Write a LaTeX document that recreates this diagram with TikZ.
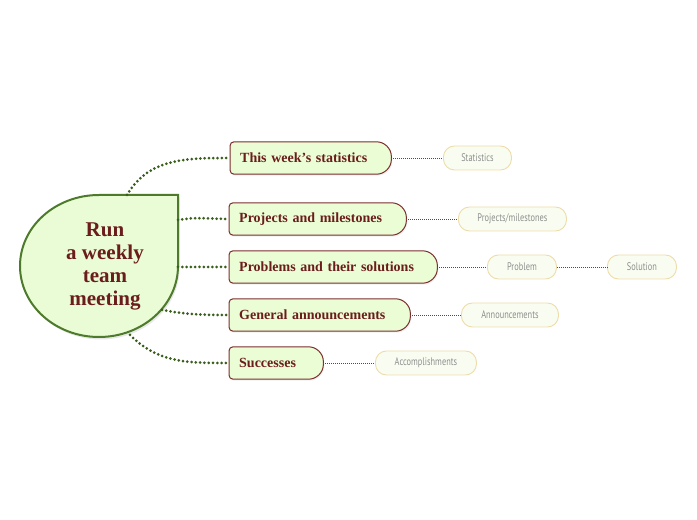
\documentclass[tikz,border=0pt]{standalone}
\usepackage{fontspec}
\setmainfont{Liberation Serif}
\newfontfamily\subfont[FakeStretch=0.76]{PT Sans}
\usetikzlibrary{calc,shadows}
\pgfdeclarelayer{background}
\pgfsetlayers{background,main}
\definecolor{mainfill}{HTML}{E9FCD6}
\definecolor{mainline}{HTML}{4E7A2C}
\definecolor{brfill}{HTML}{EBFDD5}
\definecolor{brline}{HTML}{7B2D2D}
\definecolor{txtred}{HTML}{6B1C1C}
\definecolor{subfill}{HTML}{F9FDF1}
\definecolor{subline}{HTML}{EEDCA8}
\definecolor{subtext}{HTML}{8E8E8E}
\definecolor{conn}{HTML}{3A5F1C}
\tikzset{
  x=1pt, y=1pt,
  maintext/.style={text=txtred, font=\fontsize{21}{23}\selectfont\bfseries, align=center},
  brnode/.style={text=txtred, font=\fontsize{14}{16}\selectfont\bfseries, anchor=west,
     inner xsep=10pt, inner ysep=0pt, minimum height=32pt, align=left},
  brshape/.style={fill=brfill, draw=brline, line width=1pt,
     drop shadow={opacity=0.12, shadow xshift=1pt, shadow yshift=-1.5pt}},
  subnode/.style={text=subtext, font=\subfont\fontsize{11}{13}\selectfont, anchor=west,
     draw=subline, fill=subfill, line width=0.9pt, rounded corners=11pt,
     minimum height=24pt, inner xsep=0pt, inner ysep=0pt},
  mainconn/.style={conn, line width=3pt, line cap=round, dash pattern=on 0pt off 4.3pt},
  subconn/.style={conn, line width=0.8pt, dash pattern=on 1pt off 1pt},
}
\newcommand\branchshape[1]{%
  \begin{pgfonlayer}{background}
  \draw[brshape] let \p1=(#1.north west), \p2=(#1.south east) in
   (\x1,\y1-4pt) arc[start angle=180,end angle=90,radius=4pt]
   -- (\x2-15pt,\y1) arc[start angle=90,end angle=0,radius=15pt]
   -- (\x2,\y2+15pt) arc[start angle=0,end angle=-90,radius=15pt]
   -- (\x1+4pt,\y2) arc[start angle=270,end angle=180,radius=4pt] -- cycle;
  \end{pgfonlayer}}
\begin{document}
\begin{tikzpicture}
\useasboundingbox (0,0) rectangle (697,520);
% main shape
\draw[fill=mainfill, draw=mainline, line width=2pt,
      drop shadow={opacity=0.18, shadow xshift=1.5pt, shadow yshift=-2.5pt}]
  (178,325) -- (99,325)
  .. controls (55.4,325) and (20,293.2) .. (20,254)
  .. controls (20,214.8) and (55.4,183) .. (99,183)
  .. controls (142.6,183) and (178,214.8) .. (178,254) -- cycle;
\node[maintext] (main) at (105,254) {Run\\a weekly\\team\\meeting};
\coordinate (m1) at (127,325);
\coordinate (m2) at (178,300);
\coordinate (m3) at (178,253);
\coordinate (m4) at (162,210);
\coordinate (m5) at (130,185);
% branches
\node[brnode, text width=141pt] (b1) at (230,362) {This week{\char"0027}s statistics};
\node[brnode, text width=157pt] (b2) at (229,301) {Projects and milestones};
\node[brnode, text width=188pt] (b3) at (229,253) {Problems and their solutions};
\node[brnode, text width=161pt] (b4) at (229,205) {General announcements};
\node[brnode, text width=74pt] (b5) at (229,157) {Successes};
\branchshape{b1}\branchshape{b2}\branchshape{b3}\branchshape{b4}\branchshape{b5}
% sub nodes
\node[subnode, minimum width=68pt] (s1) at (443,362) {Statistics};
\node[subnode, minimum width=108pt] (s2) at (458,301) {Projects/milestones};
\node[subnode, minimum width=69pt] (s3) at (487,253) {Problem};
\node[subnode, minimum width=69pt] (s3b) at (607,253) {Solution};
\node[subnode, minimum width=97pt] (s4) at (461,205) {Announcements};
\node[subnode, minimum width=101pt] (s5) at (375,157) {Accomplishments};
% main connectors
\draw[mainconn] (m1) to[out=60, in=180] (b1.west);
\draw[mainconn] (m2) to[out=10, in=180] (b2.west);
\draw[mainconn] (m3) -- (b3.west);
\draw[mainconn] (m4) to[out=-10, in=180] (b4.west);
\draw[mainconn] (m5) to[out=-45, in=180] (b5.west);
% sub connectors
\draw[subconn] (b1.east) -- (s1.west);
\draw[subconn] (b2.east) -- (s2.west);
\draw[subconn] (b3.east) -- (s3.west);
\draw[subconn] (s3.east) -- (s3b.west);
\draw[subconn] (b4.east) -- (s4.west);
\draw[subconn] (b5.east) -- (s5.west);
\end{tikzpicture}
\end{document}
